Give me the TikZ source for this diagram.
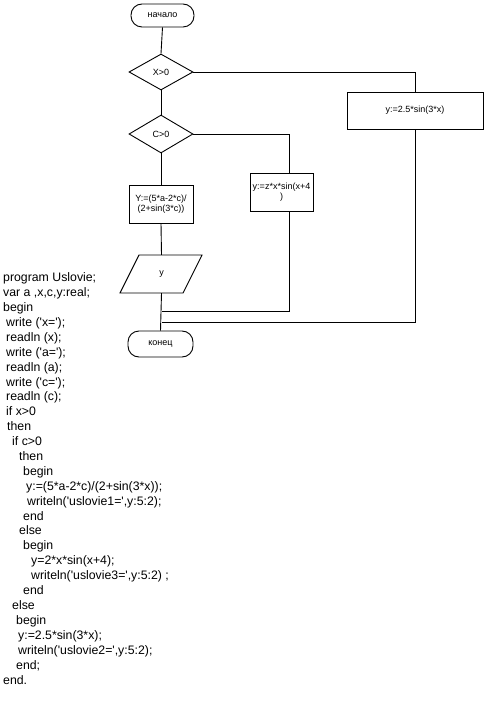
\documentclass[tikz,border=0pt]{standalone}
\usepackage{fontspec}
\setmainfont{Liberation Sans}
\newfontfamily\codefont{Liberation Sans}[Ligatures=TeXOff]
\usetikzlibrary{shapes.geometric}
\tikzset{
  ln/.style={line width=0.9pt},
  term/.style={draw, ln, rounded corners=11pt, inner sep=0pt, font=\fontsize{9}{10}\selectfont},
  dec/.style={draw, ln, diamond, inner sep=0pt, font=\fontsize{9}{10}\selectfont},
  proc/.style={draw, ln, rectangle, inner sep=0pt, align=center, font=\fontsize{9}{10.5}\selectfont},
  iobox/.style={rectangle, inner sep=0pt, minimum width=64pt, minimum height=38pt, font=\fontsize{9}{10}\selectfont},
  codeline/.style={anchor=base west, inner sep=0pt, font=\codefont\fontsize{12.3}{15}\selectfont},
}
\begin{document}
\begin{tikzpicture}[x=1pt,y=-1pt]
\useasboundingbox (0,0) rectangle (485,719);

\node[term, minimum width=63pt, minimum height=23pt] (start) at (162.5,15.5) {начало};
\node[dec, minimum width=64pt, minimum height=36pt] (d1) at (161,72) {X>0};
\node[dec, minimum width=64pt, minimum height=38pt] (d2) at (161,134) {C>0};
\node[proc, minimum width=64pt, minimum height=38pt] (b1) at (161,204) {Y:=(5*a-2*c)/\\(2+sin(3*c))};
\node[proc, minimum width=63pt, minimum height=38pt] (b2) at (281.5,192) {y:=z*x*sin(x+4\\)};
\node[proc, minimum width=136pt, minimum height=37pt] (b3) at (415,110.5) {y:=2.5*sin(3*x)};
\node[iobox] (io) at (161.5,274) {у};
\draw[ln] (139,255) -- (202,255) -- (183,293) -- (120,293) -- cycle;
\node[term, minimum width=65pt, minimum height=26pt] (fin) at (160.5,344) {конец};

\coordinate (c2) at (289,134);
\coordinate (j2) at (161.5,311);
\coordinate (j3) at (161.5,322);

\draw[ln] (start.south) -- (d1.north);
\draw[ln] (d1.east) -| (b3.north);
\draw[ln] (d1.south) -- (d2.north);
\draw[ln] (d2.east) -- (c2) -- (c2 |- b2.north);
\draw[ln] (d2.south) -- (b1.north);
\draw[ln] (b1.south) -- (io.north);
\draw[ln] (io.south) -- (fin.north);
\draw[ln] (c2 |- b2.south) -- (c2 |- j2) -- (j2);
\draw[ln] (b3.south) |- (j3);

\node[codeline] (l1) at (3,281) {program Uslovie;};
\node[codeline] (l2) at (3,296) {var a ,x,c,y:real;};
\node[codeline] (l3) at (3,311) {begin};
\node[codeline] (l4) at (6,326) {write ('x=');};
\node[codeline] (l5) at (6,341) {readln (x);};
\node[codeline] (l6) at (6,356) {write ('a=');};
\node[codeline] (l7) at (6,371) {readln (a);};
\node[codeline] (l8) at (6,386) {write ('c=');};
\node[codeline] (l9) at (6,400) {readln (c);};
\node[codeline] (l10) at (6,415) {if x>0};
\node[codeline] (l11) at (7,430) {then};
\node[codeline] (l12) at (12,445) {if c>0};
\node[codeline] (l13) at (19,460) {then};
\node[codeline] (l14) at (23,475) {begin};
\node[codeline] (l15) at (26,490) {y:=(5*a-2*c)/(2+sin(3*x));};
\node[codeline] (l16) at (27,505) {writeln('uslovie1=',y:5:2);};
\node[codeline] (l17) at (23,520) {end};
\node[codeline] (l18) at (19,534) {else};
\node[codeline] (l19) at (23,549) {begin};
\node[codeline] (l20) at (31,564) {y=2*x*sin(x+4);};
\node[codeline] (l21) at (31,579) {writeln('uslovie3=',y:5:2) ;};
\node[codeline] (l22) at (23,594) {end};
\node[codeline] (l23) at (12,609) {else};
\node[codeline] (l24) at (16,624) {begin};
\node[codeline] (l25) at (18,639) {y:=2.5*sin(3*x);};
\node[codeline] (l26) at (18,654) {writeln('uslovie2=',y:5:2);};
\node[codeline] (l27) at (16,669) {end;};
\node[codeline] (l28) at (3,684) {end.};
\end{tikzpicture}
\end{document}
